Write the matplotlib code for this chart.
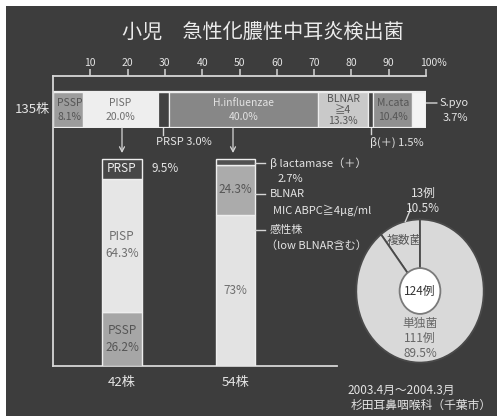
import numpy as np
import matplotlib
matplotlib.use('Agg')
import matplotlib.pyplot as plt
from matplotlib.patches import Rectangle, Circle

plt.rcParams['font.family'] = ['Noto Sans CJK JP', 'DejaVu Sans']

# --- data ---
title = '小児　急性化膿性中耳炎検出菌'
total_label = '135株'

# all isolates (%)
top_names = ['PSSP', 'PISP', 'PRSP', 'H.influenzae', 'BLNAR', 'β(＋)', 'M.cata', 'S.pyo']
top_pct = [8.1, 20.0, 3.0, 40.0, 13.3, 1.5, 10.4, 3.7]

# S.pneumoniae breakdown (%)
spn_names = ['PSSP', 'PISP', 'PRSP']
spn_pct = [26.2, 64.3, 9.5]

# H.influenzae breakdown (%)
hib_names = ['感性株', 'BLNAR', 'β lactamase（＋）']
hib_pct = [73.0, 24.3, 2.7]

bar_counts = ['42株', '54株']

# cases: mixed / single organism
pie_names = ['複数菌', '単独菌']
pie_cases = [13, 111]
pie_pct = [10.5, 89.5]
pie_total = 124

period = '2003.4月～2004.3月'
source = '杉田耳鼻咽喉科（千葉市）'

# --- style ---
W, H = 500, 418
bg = '#3d3d3d'
fg = '#e4e4e4'
line_c = '#d6d6d6'
edge_c = '#eeeeee'
top_colors = ['#9c9c9c', '#eeeeee', '#424242', '#878787', '#c9c9c9', '#424242', '#8f8f8f', '#f4f4f4']
top_text_c = ['#555555', '#6e6e6e', None, '#e2e2e2', '#555555', None, '#555555', None]
spn_colors = ['#a6a6a6', '#e6e6e6', '#474747']
spn_text_c = ['#555555', '#6e6e6e', '#f0f0f0']
hib_colors = ['#e3e3e3', '#ababab', '#505050']
hib_text_c = ['#6e6e6e', '#555555', None]

fig = plt.figure(figsize=(W / 100, H / 100), dpi=100, facecolor='white')
fig.add_artist(Rectangle((6 / W, 2 / H), (W - 9) / W, (H - 8) / H, transform=fig.transFigure,
                         facecolor=bg, edgecolor='none', zorder=-1))


def px_axes(x0, y0, x1, y1):
    ax = fig.add_axes([x0 / W, 1 - y1 / H, (x1 - x0) / W, (y1 - y0) / H])
    ax.set_facecolor('none')
    return ax


# overlay for free text and connector lines, in pixels
ax0 = px_axes(0, 0, W, H)
ax0.set_xlim(0, W)
ax0.set_ylim(H, 0)
ax0.axis('off')
ax0.set_zorder(10)

ax0.text(263, 33, title, ha='center', va='center', color='#ebebeb', fontsize=14.5)

# ---- top stacked bar (135株) ----
ax1 = px_axes(53, 76, 426, 128)
ax1.set_xlim(0, 100)
ax1.set_ylim(-0.5, 0.5 + 16 / 36)
lefts = np.concatenate([[0], np.cumsum(top_pct)[:-1]])
for i, (pct, left, col) in enumerate(zip(top_pct, lefts, top_colors)):
    ax1.barh(0, pct, left=left, height=1, color=col, edgecolor=edge_c, linewidth=0.9,
             zorder=2 if i == 0 else 3)
ax1.barh(0, sum(top_pct), height=1, fill=False, edgecolor=edge_c, linewidth=1.6, zorder=4)

for i, (name, pct, left, tc) in enumerate(zip(top_names, top_pct, lefts, top_text_c)):
    if tc is None:
        continue
    if name == 'BLNAR':
        ax1.text(left + pct / 2, 0, f'{name}\n≧4\n{pct:.1f}%', ha='center', va='center',
                 color=tc, fontsize=7.5, linespacing=1.15, zorder=5)
    elif i == 0:
        # first label runs under the next segment
        ax1.text(left + 1.1, 0, f'{name}\n{pct:.1f}%', ha='left', va='center',
                 color=tc, fontsize=7.5, linespacing=1.45, zorder=2.5)
    else:
        ax1.text(left + pct / 2, 0, f'{name}\n{pct:.1f}%', ha='center', va='center',
                 color=tc, fontsize=7.5, linespacing=1.45, zorder=5)

# PRSP / beta(+) labels below the bar
for idx, dx, tick in [(2, -7, 7), (5, -1, 6)]:
    xc = lefts[idx] + top_pct[idx] / 2
    ax1.plot([xc, xc], [-0.5, -0.5 - tick / 36], color=line_c, lw=1, clip_on=False)
    ax1.annotate(f'{top_names[idx]} {top_pct[idx]:.1f}%', xy=(xc, -0.5), xytext=(dx, -14),
                 textcoords='offset pixels', ha='left', va='center', color=fg, fontsize=8,
                 annotation_clip=False)

# S.pyo label on the right
ys = 0.5 - 11 / 36
ax1.annotate('', xy=(100, ys), xytext=(11, 0), textcoords='offset pixels',
             arrowprops=dict(arrowstyle='-', color=line_c, lw=1, shrinkA=0, shrinkB=0),
             annotation_clip=False)
ax1.annotate(top_names[7], xy=(100, ys), xytext=(14, 0), textcoords='offset pixels',
             ha='left', va='center', color=fg, fontsize=8, annotation_clip=False)
ax1.annotate(f'{top_pct[7]:.1f}%', xy=(100, ys), xytext=(17, -15), textcoords='offset pixels',
             ha='left', va='center', color=fg, fontsize=8, annotation_clip=False)

ax1.annotate(total_label, xy=(0, 0), xytext=(-3, 0), textcoords='offset pixels',
             ha='right', va='center', color=fg, fontsize=9.5, annotation_clip=False)

for s in ['left', 'right', 'bottom']:
    ax1.spines[s].set_visible(False)
ax1.spines['top'].set_color(line_c)
ax1.spines['top'].set_linewidth(1.3)
ax1.xaxis.tick_top()
ax1.set_xticks(np.arange(10, 101, 10))
ax1.set_xticklabels([str(t) for t in range(10, 100, 10)] + [''])
ax1.tick_params(axis='x', direction='out', length=5, width=1.1, color=line_c,
                labelcolor=fg, labelsize=7.5, pad=0.5)
ax1.set_yticks([])
ax1.annotate('100%', xy=(100, 1), xycoords=('data', 'axes fraction'), xytext=(-6, 7.6),
             textcoords='offset pixels', ha='left', va='bottom', color=fg, fontsize=7.5,
             annotation_clip=False)

# ---- breakdown bars ----
ax2 = px_axes(53, 76, 337, 366)
ax2.set_xlim(-0.608, 1.894)
ax2.set_ylim(0, 140.1)
groups = [(spn_names, spn_pct, spn_colors, spn_text_c), (hib_names, hib_pct, hib_colors, hib_text_c)]
for xi, (names, pcts, cols, tcs) in enumerate(groups):
    bottoms = np.concatenate([[0], np.cumsum(pcts)[:-1]])
    ax2.bar(xi, pcts, bottom=bottoms, width=0.35, color=cols, edgecolor=edge_c, linewidth=1, zorder=3)
    for name, pct, b, tc in zip(names, pcts, bottoms, tcs):
        if tc is None:
            continue
        if xi == 0 and name == 'PRSP':
            ax2.text(xi, b + pct / 2, name, ha='center', va='center', color=tc, fontsize=8.5, zorder=4)
            ax2.annotate(f'{pct:g}%', xy=(xi + 0.175, b + pct / 2), xytext=(10, 0),
                         textcoords='offset pixels', ha='left', va='center', color=fg, fontsize=8.5)
        elif xi == 0:
            ax2.text(xi, b + pct / 2, f'{name}\n{pct:g}%', ha='center', va='center', color=tc,
                     fontsize=8.5, linespacing=1.35, zorder=4)
        else:
            ax2.text(xi, b + pct / 2, f'{pct:g}%', ha='center', va='center', color=tc,
                     fontsize=8.5, zorder=4)

for s in ['top', 'right']:
    ax2.spines[s].set_visible(False)
for s in ['left', 'bottom']:
    ax2.spines[s].set_color(line_c)
    ax2.spines[s].set_linewidth(1.3)
ax2.set_yticks([])
ax2.set_xticks([0, 1])
ax2.set_xticklabels(bar_counts)
ax2.tick_params(axis='x', length=0, pad=7, labelcolor=fg, labelsize=9.5)

# arrows from the top bar down to each breakdown
for x in [122, 233]:
    ax0.annotate('', xy=(x, 153), xytext=(x, 128),
                 arrowprops=dict(arrowstyle='->,head_length=0.35,head_width=0.18', color=line_c,
                                 lw=0.9, shrinkA=0, shrinkB=0))

# H.influenzae side labels
side = [(163, hib_names[2], f'{hib_pct[2]:g}%', 278),
        (194, hib_names[1], 'MIC ABPC≧4μg/ml', 273),
        (230, hib_names[0], '（low BLNAR含む）', 266)]
for y, l1, l2, x2 in side:
    ax0.plot([255, 265], [y, y], color=line_c, lw=1)
    ax0.text(270, y, l1, ha='left', va='center', color=fg, fontsize=8)
    ax0.text(x2, y + 16, l2, ha='left', va='center', color=fg, fontsize=8)

# ---- cases pie ----
ax3 = px_axes(355, 218, 485, 364)
wedges, _ = ax3.pie(pie_cases, startangle=90, colors=['#d9d9d9', '#d9d9d9'], radius=1,
                    wedgeprops=dict(edgecolor='#4a4a4a', linewidth=1.3))
ax3.set_aspect('auto')
ax3.set_xlim(-1.02, 1.02)
ax3.set_ylim(-1.02, 1.02)
ax3.add_patch(Circle((0, 0), 0.32, facecolor='white', edgecolor='#7a7a7a', lw=1.3, zorder=5))
ax3.text(0, 0, f'{pie_total}例', ha='center', va='center', color='#333333', fontsize=8.5, zorder=6)
ax3.text(-0.25, 0.70, pie_names[0], ha='center', va='center', color='#555555', fontsize=8.5, zorder=6)
ax3.text(0, -0.67, f'{pie_names[1]}\n{pie_cases[1]}例\n{pie_pct[1]}%', ha='center', va='center',
         color='#666666', fontsize=8.5, linespacing=1.2, zorder=6)
ax3.plot([-0.23, -0.15], [0.97, 1.14], color=line_c, lw=1, clip_on=False)
ax3.text(0.05, 1.26, f'{pie_cases[0]}例\n{pie_pct[0]}%', ha='center', va='center', color=fg,
         fontsize=8.5, linespacing=1.2, clip_on=False)

# footer
ax0.text(347, 390, period, ha='left', va='center', color=fg, fontsize=8.5)
ax0.text(351, 405, source, ha='left', va='center', color=fg, fontsize=8.5)

fig.savefig('out.png', dpi=100, facecolor='white')
